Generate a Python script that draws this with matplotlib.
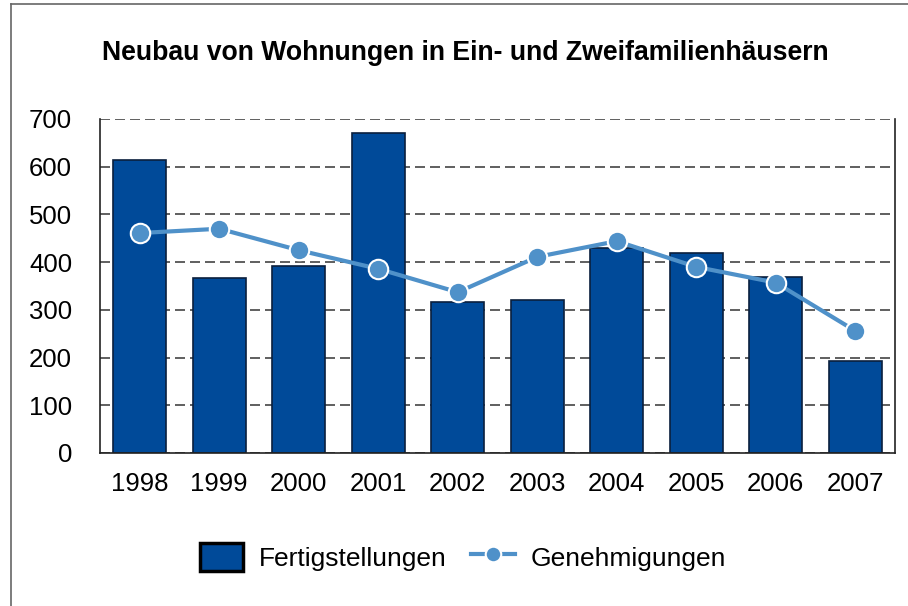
import matplotlib
matplotlib.use("Agg")
import matplotlib.pyplot as plt
from matplotlib.lines import Line2D

plt.rcParams['font.family'] = ['Liberation Sans', 'DejaVu Sans']

years = ['1998', '1999', '2000', '2001', '2002', '2003', '2004', '2005', '2006', '2007']
fertig = [614, 367, 392, 671, 316, 321, 430, 420, 369, 193]
genehm = [461, 470, 425, 386, 337, 411, 444, 390, 357, 256]
yticks = [0, 100, 200, 300, 400, 500, 600, 700]

fig = plt.figure(figsize=(9.08, 6.06), dpi=100)
ax = fig.add_axes([100/908, 1-453/606, 795/908, 334/606])

x = list(range(len(years)))
bars = ax.bar(x, fertig, width=0.67, color='#004A99', edgecolor='#0a1f3d', linewidth=1.2,
              label='Fertigstellungen', zorder=2)
line, = ax.plot(x, genehm, color='#4F91C9', linewidth=3, marker='o', markersize=14,
                markerfacecolor='#4F91C9', markeredgecolor='white', markeredgewidth=1.5,
                label='Genehmigungen', zorder=3)

ax.set_xlim(-0.5, 9.5)
ax.set_ylim(0, 700)
ax.set_yticks(yticks)
ax.set_xticks(x)
ax.set_xticklabels(years)
ax.tick_params(length=0, labelsize=18.5, pad=14)
ax.tick_params(axis='y', pad=20)
ax.yaxis.grid(True, linestyle=(0, (6, 3)), color='#444444', linewidth=1.2, zorder=1)
ax.set_axisbelow(True)
ax.spines['top'].set_visible(False)
for s in ['left', 'right', 'bottom']:
    ax.spines[s].set_color('#222222')
    ax.spines[s].set_linewidth(1.2)

fig.text(465/908, 1-53/606, 'Neubau von Wohnungen in Ein- und Zweifamilienhäusern',
         ha='center', va='center', fontsize=19.2, fontweight='bold')

leg = fig.legend([bars, line], ['Fertigstellungen', 'Genehmigungen'],
                 loc='center', bbox_to_anchor=(463/908, 1-557/606), ncol=2, frameon=False,
                 fontsize=19, handlelength=1.65, handleheight=1.25, columnspacing=0.92,
                 handletextpad=0.6, markerscale=0.8)
leg.legend_handles[0].set_edgecolor('black')
leg.legend_handles[0].set_linewidth(2.5)

# outer frame (left and top edges)
fig.add_artist(Line2D([11/908, 11/908], [0, 1-4/606], color='#666666', linewidth=1.2))
fig.add_artist(Line2D([11/908, 1], [1-4/606, 1-4/606], color='#666666', linewidth=1.2))

fig.savefig('out.png', dpi=100)
